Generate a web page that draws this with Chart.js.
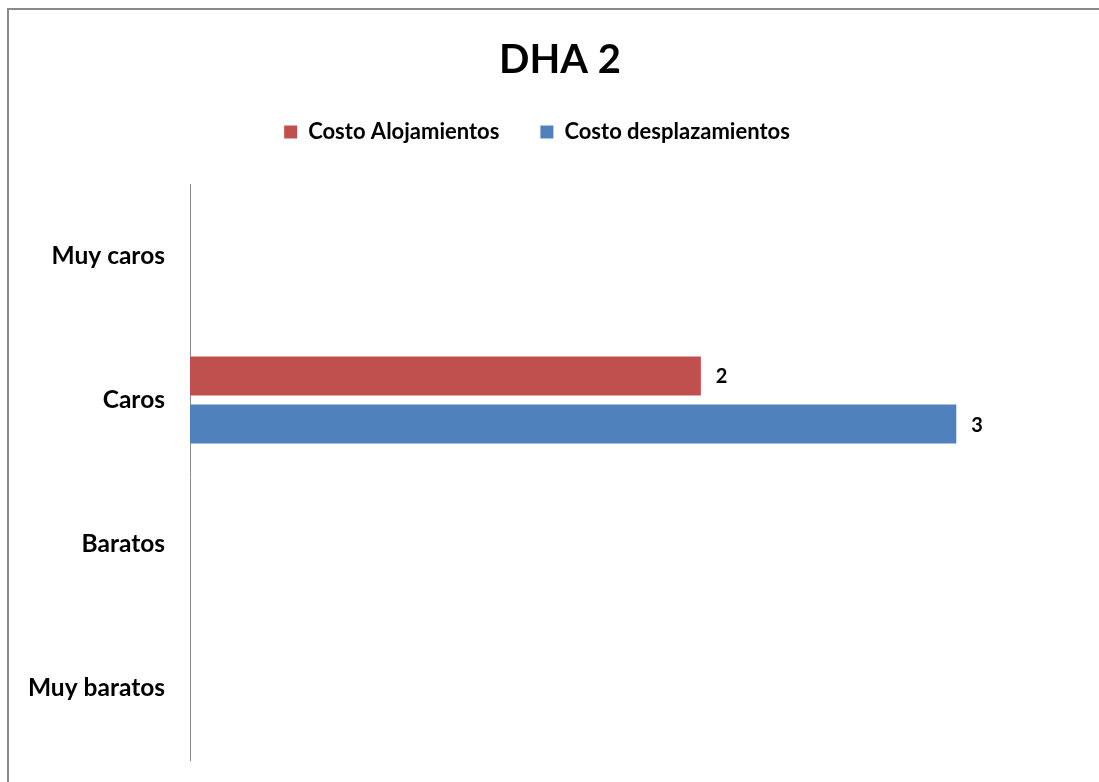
<!DOCTYPE html>
<html>
<head>
<meta charset="utf-8">
<script src="https://cdn.jsdelivr.net/npm/chart.js@4"></script>
<style>
  html, body { margin: 0; padding: 0; background: #ffffff; overflow: hidden; }
  canvas { display: block; }
</style>
</head>
<body>
<canvas id="c" width="1099" height="782" style="width:1099px;height:782px"></canvas>
<script>
const chartTitle = "DHA 2";
const categories = ["Muy caros", "Caros", "Baratos", "Muy baratos"];
const seriesNames = ["Costo Alojamientos", "Costo desplazamientos"];
const alojamientos = [0, 2, 0, 0];
const desplazamientos = [0, 3, 0, 0];
const seriesColors = ["#C0504D", "#4F81BD"];

const frame = {
  id: 'frame',
  beforeDraw(chart) {
    const ctx = chart.ctx;
    ctx.save();
    ctx.fillStyle = '#ffffff';
    ctx.fillRect(0, 0, chart.width, chart.height);
    ctx.fillStyle = '#8a8a8a';
    ctx.fillRect(7, 8, chart.width - 7, 2);
    ctx.fillRect(7, 8, 2, chart.height - 8);
    ctx.restore();
  }
};

// shift title and legend to match the reference placement
const placeBoxes = {
  id: 'placeBoxes',
  afterLayout(chart) {
    const t = chart.titleBlock;
    if (t) { t.left += 8; t.right += 8; }
    const l = chart.legend;
    if (l) { l.left -= 15; l.right -= 15; l.top -= 31; l.bottom -= 31; }
  }
};

const valueLabels = {
  id: 'valueLabels',
  afterDatasetsDraw(chart) {
    const ctx = chart.ctx;
    ctx.save();
    ctx.font = 'bold 20px Lato';
    ctx.fillStyle = '#000000';
    ctx.textAlign = 'left';
    ctx.textBaseline = 'middle';
    chart.data.datasets.forEach((ds, di) => {
      const meta = chart.getDatasetMeta(di);
      meta.data.forEach((bar, i) => {
        const v = ds.data[i];
        if (!v) return;
        ctx.fillText(String(v), bar.x + 15, bar.y + 1);
      });
    });
    ctx.restore();
  }
};

new Chart(document.getElementById('c'), {
  type: 'bar',
  data: {
    labels: categories,
    datasets: [
      { label: seriesNames[0], data: alojamientos, backgroundColor: seriesColors[0], borderWidth: 0,
        barPercentage: 0.81, categoryPercentage: 0.668 },
      { label: seriesNames[1], data: desplazamientos, backgroundColor: seriesColors[1], borderWidth: 0,
        barPercentage: 0.81, categoryPercentage: 0.668 }
    ]
  },
  options: {
    indexAxis: 'y',
    responsive: false,
    devicePixelRatio: 1,
    animation: false,
    layout: { padding: { top: 14, left: 20, right: 15, bottom: 22 } },
    plugins: {
      title: {
        display: true,
        text: chartTitle,
        color: '#000000',
        font: { family: 'Lato', size: 40, weight: 'bold' },
        padding: { top: 22, bottom: 27 }
      },
      legend: {
        display: true,
        position: 'top',
        labels: {
          color: '#000000',
          font: { family: 'Lato', size: 22, weight: 'bold' },
          boxWidth: 13,
          boxHeight: 13,
          padding: 41
        }
      },
      tooltip: { enabled: false }
    },
    scales: {
      x: {
        display: false,
        min: 0,
        max: 3.5
      },
      y: {
        afterFit(scale) {
          scale.width = 170;
          scale.paddingTop = 0;
          scale.paddingBottom = 0;
        },
        grid: { display: false, drawTicks: false },
        border: { display: true, color: '#8a8a8a', width: 1 },
        ticks: {
          color: '#000000',
          padding: 25,
          font: { family: 'Lato', size: 24.5, weight: 'bold' }
        }
      }
    }
  },
  plugins: [frame, placeBoxes, valueLabels]
});
</script>
</body>
</html>
